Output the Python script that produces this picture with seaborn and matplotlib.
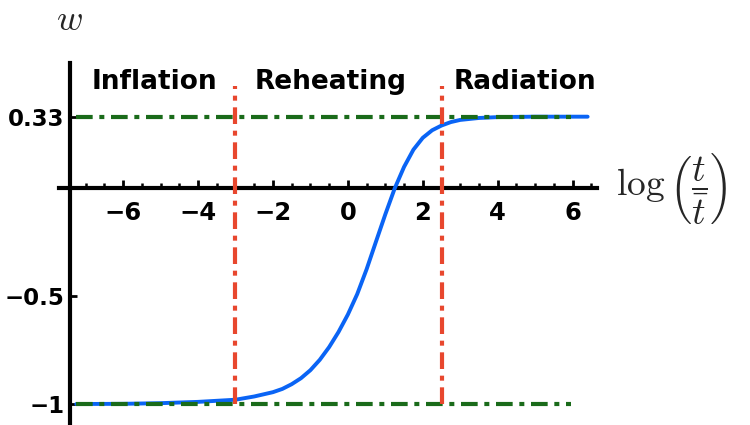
"""Equation-of-state parameter w across inflation, reheating and radiation."""
import numpy as np
import pandas as pd
import matplotlib
matplotlib.use("Agg")
import matplotlib.pyplot as plt
import seaborn as sns

# ---- values -----------------------------------------------------------------
LOG_T = [-7.25, -6, -5, -4, -3, -2.5, -2, -1.75, -1.5, -1.25, -1, -0.75, -0.5, -0.25, 0,
         0.25, 0.5, 0.75, 1.0, 1.25, 1.5, 1.75, 2.0, 2.25, 2.5, 2.75, 3.0, 3.5, 4, 5, 6.4]
W = [-1.0, -0.999, -0.996, -0.99, -0.98, -0.965, -0.945, -0.93, -0.908, -0.88, -0.843,
     -0.795, -0.736, -0.666, -0.585, -0.49, -0.375, -0.247, -0.12, 0.0, 0.1, 0.18,
     0.235, 0.27, 0.292, 0.308, 0.318, 0.327, 0.331, 0.333, 0.333]

W_LEVELS = [1 / 3, -1.0]            # green reference lines
LEVEL_SPAN = (-7.25, 5.95)
PHASE_EDGES = [-3.0, 2.5]           # red boundaries
EDGE_SPAN = (-1.0, 0.475)
PHASES = ["Inflation", "Reheating", "Radiation"]
PHASE_X = [-5.15, -0.47, 4.72]
PHASE_Y = 0.494

X_TICKS = [-6, -4, -2, 0, 2, 4, 6]
Y_TICKS = [1 / 3, -0.5, -1.0]
Y_TICKLABELS = ["0.33", "\u22120.5", "\u22121"]

BLUE = "#0a64f5"
GREEN = "#1a6b1a"
RED = "#e8472e"

sns.set_theme(style="white")
plt.rcParams["font.family"] = ["DejaVu Sans"]
plt.rcParams["mathtext.fontset"] = "cm"

fig = plt.figure(figsize=(7.5, 4.25), dpi=100)
ax = fig.add_axes([59 / 750, 2 / 425, 538 / 750, 360 / 425])
ax.set_xlim(-7.71, 6.65)
ax.set_ylim(-1.088, 0.582)

df = pd.DataFrame({"logt": LOG_T, "w": W})
sns.lineplot(data=df, x="logt", y="w", color=BLUE, lw=2.8, ax=ax, zorder=3)

dash = (4, 1.6, 1.2, 1.6)
for lv in W_LEVELS:
    ax.plot(LEVEL_SPAN, [lv, lv], color=GREEN, lw=3.0, dashes=dash, zorder=4)
for e in PHASE_EDGES:
    ax.plot([e, e], EDGE_SPAN, color=RED, lw=3.0, dashes=dash, zorder=5)

for name, px in zip(PHASES, PHASE_X):
    ax.text(px, PHASE_Y, name, ha="center", va="center", fontsize=19,
            fontweight="bold", color="black")

# axes through the data, Mathematica style
for s in ["top", "right"]:
    ax.spines[s].set_visible(False)
ax.spines["bottom"].set_position(("data", 0))
ax.spines["left"].set_position(("data", -7.42))
for s in ["bottom", "left"]:
    ax.spines[s].set_linewidth(3.0)
    ax.spines[s].set_color("black")

ax.set_xticks(X_TICKS)
ax.set_xticklabels([f"{t}".replace("-", "\u2212") for t in X_TICKS])
ax.set_xticks(np.arange(-7, 6.51, 0.5), minor=True)
ax.set_yticks(Y_TICKS)
ax.set_yticklabels(Y_TICKLABELS)
ax.tick_params(bottom=True, left=True, which="both", colors="black",
               labelcolor="black")
ax.tick_params(axis="x", which="major", direction="in", length=6, width=2.0,
               pad=9, labelsize=17.5)
ax.tick_params(axis="x", which="minor", direction="in", length=3.5, width=1.8)
ax.tick_params(axis="y", which="major", direction="in", length=5, width=2.0,
               pad=4, labelsize=16.5)
for lab in ax.get_xticklabels() + ax.get_yticklabels():
    lab.set_fontweight("bold")
ax.set_xlabel("")
ax.set_ylabel("")

ax.text(-7.42, 0.78, r"$w$", ha="center", va="center", fontsize=26,
        clip_on=False)
ax.text(7.15, 0.0, r"$\log\left(\dfrac{t}{\bar{t}}\right)$", ha="left",
        va="center", fontsize=27, clip_on=False)

fig.savefig("out.png", dpi=100)
